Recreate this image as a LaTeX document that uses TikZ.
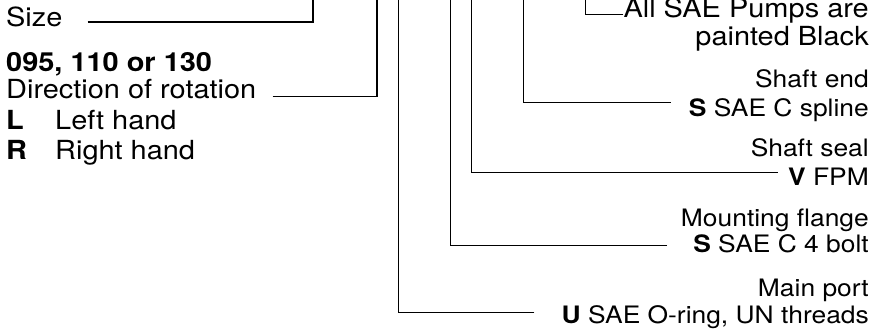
\documentclass[tikz,border=0pt]{standalone}
\usepackage{fontspec}
\setmainfont{TeX Gyre Heros}[FakeStretch=1.1]
\usetikzlibrary{calc}
\tikzset{every node/.style={inner sep=0pt,font=\fontsize{24}{29}\selectfont},big/.style={font=\fontsize{26.3}{29}\selectfont},lead/.style={line width=.9pt},boldlead/.style={line width=1.8pt},lbl/.style={anchor=base west,big},rlbl/.style={anchor=base east}}

\begin{document}
\begin{tikzpicture}[x=1pt,y=1pt]
\useasboundingbox (0,0) rectangle (874,-332);
\node[lbl] (size) at (6,-26){Size};\node[lbl] (sizes) at (6,-71){\bfseries 095, 110 or 130};
\node[lbl] (rot) at (6,-98.5){Direction of rotation};
\node[lbl] (rotl) at (6,-129.5){\makebox[49pt][l]{\bfseries L}Left hand};\node[lbl] (rotr) at (6,-159.5){\makebox[49pt][l]{\bfseries R}Right hand};
\node[rlbl,big] (paint) at (869,-17){All SAE Pumps are};\node[rlbl,big] (painttwo) at (869,-45){painted Black};
\node[rlbl] (shaft) at (869,-87){Shaft end};\node[rlbl] (shaftcode) at (869,-116){\textbf{S} SAE C spline};
\node[rlbl] (seal) at (869,-156){Shaft seal};\node[rlbl] (sealcode) at (869,-185){\textbf{V} FPM};
\node[rlbl] (flange) at (869,-226){Mounting flange};\node[rlbl] (flangecode) at (869,-252){\textbf{S} SAE C 4 bolt};
\node[rlbl] (port) at (869,-296){Main port};\node[rlbl] (portcode) at (869,-323){\textbf{U} SAE O-ring, UN threads};
\foreach \n/\x in {size/313,rot/377,port/398,flange/450,seal/471,shaft/523,paint/585}{\coordinate (\n top) at (\x,0);}
\draw[boldlead] ([shift={(25,4)}]size.base east) -| (sizetop);\draw[boldlead] ([shift={(16,2)}]rot.base east) -| (rottop);
\draw[lead] ([shift={(-27,11)}]portcode.base west) -| (porttop);\draw[lead] ([shift={(-26,7)}]flangecode.base west) -| (flangetop);
\draw[lead] ([shift={(-10,13)}]sealcode.base west) -| (sealtop);\draw[lead] ([shift={(-18,14)}]shaftcode.base west) -| (shafttop);
\draw[lead] ([yshift=3]paint.base west) -| (painttop);
\end{tikzpicture}
\end{document}
